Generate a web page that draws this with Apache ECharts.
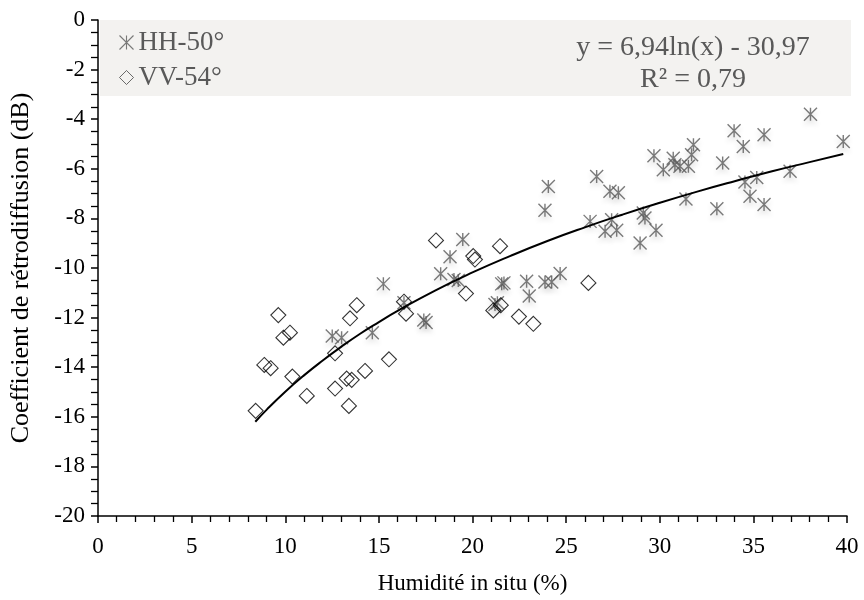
<!DOCTYPE html>
<html>
<head>
<meta charset="utf-8">
<script src="https://cdn.jsdelivr.net/npm/echarts@6/dist/echarts.min.js"></script>
<style>html,body{margin:0;padding:0;background:#fff}#c{width:864px;height:600px}</style>
</head>
<body>
<div id="c"></div>
<script>
// HH-50° measurements: humidity (%), backscatter (dB)
var hhX = [12.51,13.01,14.65,15.24,16.34,17.40,17.52,18.30,18.80,19.48,19.01,19.24,21.56,21.68,21.20,21.33,22.89,23.03,23.87,24.23,24.68,24.05,23.87,26.63,27.34,27.79,26.28,27.43,27.08,27.70,29.12,29.21,29.80,28.95,29.69,30.19,30.72,30.81,31.08,31.53,31.80,31.70,31.40,39.80,38.05,33.97,35.57,34.46,33.36,34.55,35.18,36.96,34.82,35.57,33.05];
var hhY = [-12.74,-12.81,-12.61,-10.64,-11.40,-12.10,-12.20,-10.23,-9.55,-8.85,-10.46,-10.50,-10.64,-10.60,-11.47,-11.40,-10.53,-11.13,-10.56,-10.56,-10.22,-6.71,-7.67,-6.31,-6.91,-6.97,-8.12,-8.05,-8.52,-8.48,-7.78,-7.98,-8.48,-8.99,-5.47,-6.04,-5.57,-5.84,-5.90,-5.90,-5.03,-5.43,-7.22,-4.90,-3.80,-4.47,-4.63,-5.10,-5.77,-6.53,-6.35,-6.10,-7.11,-7.44,-7.61];
// VV-54° measurements
var vvX = [8.42,8.88,9.22,9.63,9.90,10.25,10.38,11.15,12.66,12.66,13.28,13.55,13.40,13.46,13.82,14.26,15.54,16.34,16.45,18.05,19.65,20.04,20.13,21.47,21.11,21.51,22.48,23.25,26.19];
var vvY = [-15.76,-13.91,-14.04,-11.90,-12.81,-12.61,-14.38,-15.16,-13.44,-14.86,-14.46,-14.51,-15.56,-12.03,-11.50,-14.15,-13.68,-11.36,-11.84,-8.89,-11.03,-9.52,-9.66,-9.12,-11.71,-11.50,-11.96,-12.25,-10.60];
// Logarithmic trend line as drawn
var trendX = [8.4,9,10,11,12,13,14,15,16,18,20,22,24,26,28,30,32,34,36,38,39.8];
var trendY = [-16.20,-15.72,-14.99,-14.33,-13.73,-13.17,-12.65,-12.18,-11.73,-10.91,-10.18,-9.52,-8.91,-8.36,-7.85,-7.37,-6.92,-6.50,-6.10,-5.73,-5.40];
var seriesNames = ['HH-50°','VV-54°'];
var eqLines = ['y = 6,94ln(x) - 30,97','R² = 0,79'];
var xTitle = 'Humidité in situ (%)';
var yTitle = 'Coefficient de rétrodiffusion (dB)';

function zip(a,b){return a.map(function(v,i){return [v,b[i]];});}

var FONT = '"Liberation Serif","Times New Roman",serif';
var chart = echarts.init(document.getElementById('c'));
var starPath = 'path://M-10,-10 L10,10 M-10,10 L10,-10 M0,-10 L0,10';

chart.setOption({
  animation:false,
  backgroundColor:'#fff',
  grid:{left:98,right:17,top:20,bottom:83,containLabel:false},
  graphic:[
    {type:'rect',shape:{x:100,y:20,width:751,height:76},style:{fill:'#f3f2f0'},z:-10,silent:true},
    {type:'text',x:693,y:48,style:{text:eqLines[0],fill:'#595959',font:'28px '+FONT,textAlign:'center',textVerticalAlign:'middle'},z:5},
    {type:'text',x:693,y:80,style:{text:eqLines[1],fill:'#595959',font:'28px '+FONT,textAlign:'center',textVerticalAlign:'middle'},z:5}
  ],
  legend:{
    orient:'vertical',left:117,top:29,padding:0,itemGap:8,itemWidth:14,itemHeight:14,
    textStyle:{fontFamily:FONT,fontSize:27,color:'#595959'},
    data:[
      {name:seriesNames[0],itemStyle:{color:'none',borderColor:'#5a5a5a',borderWidth:1.1,shadowBlur:0,shadowOffsetY:0}},
      {name:seriesNames[1],itemStyle:{color:'none',borderColor:'#333',borderWidth:0.9}}
    ]
  },
  xAxis:{
    type:'value',min:0,max:40,interval:5,
    name:xTitle,nameLocation:'middle',nameGap:56,
    nameTextStyle:{fontFamily:FONT,fontSize:23,color:'#000'},
    axisLine:{show:true,onZero:false,lineStyle:{color:'#000',width:1.5}},
    axisTick:{show:true,length:7,lineStyle:{color:'#000',width:1.5}},
    minorTick:{show:true,splitNumber:5,length:6,lineStyle:{color:'#000',width:1.3}},
    axisLabel:{fontFamily:FONT,fontSize:23,color:'#000',margin:19},
    splitLine:{show:false}
  },
  yAxis:{
    type:'value',min:-20,max:0,interval:2,
    name:yTitle,nameLocation:'middle',nameGap:64,
    nameTextStyle:{fontFamily:FONT,fontSize:26,color:'#000'},
    axisLine:{show:true,onZero:false,lineStyle:{color:'#000',width:1.5}},
    axisTick:{show:true,length:7,lineStyle:{color:'#000',width:1.5}},
    minorTick:{show:true,splitNumber:4,length:7,lineStyle:{color:'#000',width:1.3}},
    axisLabel:{fontFamily:FONT,fontSize:23,color:'#000',margin:13},
    splitLine:{show:false}
  },
  series:[
    {
      name:seriesNames[0],type:'scatter',symbol:starPath,symbolSize:13,
      itemStyle:{color:'none',borderColor:'#5a5a5a',borderWidth:1.4,shadowColor:'rgba(0,0,0,0.18)',shadowBlur:5,shadowOffsetY:4},
      data:zip(hhX,hhY),z:3
    },
    {
      name:seriesNames[1],type:'scatter',symbol:'diamond',symbolSize:15,
      itemStyle:{color:'none',borderColor:'#000',borderWidth:1.1},
      data:zip(vvX,vvY),z:4
    },
    {
      name:'trend',type:'line',smooth:true,showSymbol:false,symbol:'none',
      lineStyle:{color:'#000',width:2},
      data:zip(trendX,trendY),z:5,silent:true
    }
  ]
});
</script>
</body>
</html>
